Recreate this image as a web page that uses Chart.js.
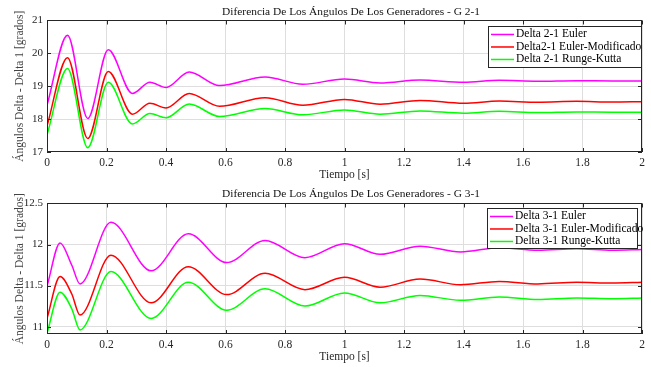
<!DOCTYPE html>
<html lang="es">
<head>
  <meta charset="UTF-8">
  <title>Diferencia De Los Ángulos De Los Generadores</title>
  <style>
    html, body { margin: 0; padding: 0; background: #fff; }
    canvas { display: block; }
  </style>
</head>
<body>
  <canvas id="chart21" width="651" height="184"></canvas>
  <canvas id="chart31" width="651" height="183"></canvas>
  <script src="https://cdn.jsdelivr.net/npm/chart.js"></script>
  <script>
    // G 2-1 (at peaks / troughs)
    const tiempo21 = [0, 0.069, 0.137, 0.206, 0.287, 0.346, 0.40, 0.478, 0.58, 0.733, 0.86, 1.0, 1.12, 1.254, 1.40, 1.52, 1.65, 1.78, 1.9, 2.0];
    const euler21 = [18.42, 20.55, 18.02, 20.11, 18.78, 19.12, 18.96, 19.43, 19.02, 19.28, 19.06, 19.22, 19.10, 19.19, 19.12, 19.18, 19.15, 19.17, 19.16, 19.16];
    const eulerMod21 = [17.79, 19.87, 17.41, 19.45, 18.15, 18.48, 18.34, 18.78, 18.39, 18.65, 18.42, 18.60, 18.45, 18.57, 18.48, 18.55, 18.51, 18.54, 18.52, 18.53];
    const rk21 = [17.52, 19.54, 17.13, 19.12, 17.85, 18.17, 18.04, 18.46, 18.08, 18.32, 18.13, 18.28, 18.15, 18.25, 18.18, 18.24, 18.20, 18.22, 18.21, 18.21];
    const labels21 = ['Delta 2-1 Euler', 'Delta2-1 Euler-Modificado', 'Delta 2-1 Runge-Kutta'];

    // G 3-1
    const tiempo31 = [0, 0.044, 0.083, 0.111, 0.215, 0.35, 0.475, 0.604, 0.733, 0.867, 1.0, 1.12, 1.254, 1.39, 1.52, 1.65, 1.78, 1.9, 2.0];
    const euler31 = [11.49, 12.02, 11.75, 11.52, 12.27, 11.68, 12.13, 11.78, 12.05, 11.84, 12.01, 11.88, 11.98, 11.91, 11.96, 11.93, 11.95, 11.93, 11.94];
    const eulerMod31 = [11.10, 11.61, 11.40, 11.14, 11.87, 11.29, 11.73, 11.39, 11.65, 11.45, 11.60, 11.48, 11.58, 11.51, 11.55, 11.52, 11.54, 11.53, 11.54];
    const rk31 = [10.92, 11.42, 11.22, 10.96, 11.67, 11.10, 11.54, 11.20, 11.46, 11.25, 11.41, 11.29, 11.38, 11.32, 11.36, 11.33, 11.35, 11.34, 11.35];
    const labels31 = ['Delta 3-1 Euler', 'Delta 3-1 Euler-Modificado', 'Delta 3-1 Runge-Kutta'];

    const colores = ['#ff00ff', '#ff0000', '#00ff00'];
    const FONT = "'Liberation Serif', 'Times New Roman', serif";
    const fmt = v => String(Number(v.toFixed(1)));

    // matlab style box, inward ticks, legend inside the axes
    const matlabBox = {
      id: 'matlabBox',
      afterLayout(chart) {
        if (chart.titleBlock) chart.titleBlock.left += 13;
      },
      afterDatasetsDraw(chart) {
        const { ctx, chartArea: a, scales } = chart;
        ctx.save();
        ctx.strokeStyle = '#262626';
        ctx.lineWidth = 1;
        ctx.beginPath();
        scales.x.ticks.forEach(t => {
          const px = Math.round(scales.x.getPixelForValue(t.value)) + 0.5;
          ctx.moveTo(px, a.bottom); ctx.lineTo(px, a.bottom - 4);
          ctx.moveTo(px, a.top); ctx.lineTo(px, a.top + 4);
        });
        scales.y.ticks.forEach(t => {
          const py = Math.round(scales.y.getPixelForValue(t.value)) + 0.5;
          ctx.moveTo(a.left, py); ctx.lineTo(a.left + 4, py);
          ctx.moveTo(a.right, py); ctx.lineTo(a.right - 4, py);
        });
        ctx.stroke();
        ctx.strokeRect(Math.round(a.left) + 0.5, Math.round(a.top) + 0.5, Math.round(a.width) - 1, Math.round(a.height) - 1);
        ctx.restore();
      },
      afterDraw(chart, args, opts) {
        const { ctx, chartArea: a } = chart;
        const x0 = a.right - opts.offsetRight - opts.width;
        const y0 = a.top + opts.offsetTop;
        ctx.save();
        ctx.fillStyle = '#fff';
        ctx.fillRect(x0, y0, opts.width, opts.height);
        ctx.strokeStyle = '#262626';
        ctx.lineWidth = 1;
        ctx.strokeRect(Math.round(x0) + 0.5, Math.round(y0) + 0.5, opts.width, opts.height);
        ctx.font = '11.5px ' + FONT;
        ctx.textBaseline = 'middle';
        chart.data.datasets.forEach((ds, i) => {
          const y = y0 + 8 + i * 12.5;
          ctx.strokeStyle = ds.borderColor;
          ctx.lineWidth = 1.5;
          ctx.beginPath();
          ctx.moveTo(x0 + 3, y);
          ctx.lineTo(x0 + 26, y);
          ctx.stroke();
          ctx.fillStyle = '#000';
          ctx.fillText(ds.label, x0 + 28, y);
        });
        ctx.restore();
      }
    };

    function makeChart(id, titulo, tiempo, series, nombres, yCfg, lay) {
      return new Chart(document.getElementById(id), {
        type: 'line',
        data: {
          datasets: series.map((vals, i) => ({
            label: nombres[i],
            data: tiempo.map((t, k) => ({ x: t, y: vals[k] })),
            borderColor: colores[i],
            borderWidth: 1.5,
            pointRadius: 0,
            cubicInterpolationMode: 'monotone',
            fill: false
          }))
        },
        options: {
          responsive: false,
          animation: false,
          layout: { padding: { left: 0, right: 9, top: 0, bottom: 0 } },
          plugins: {
            legend: { display: false },
            tooltip: { enabled: false },
            title: {
              display: true,
              text: titulo,
              fullSize: false,
              color: '#111',
              font: { family: FONT, size: 11.4, weight: 'normal', lineHeight: 1.2 },
              padding: { top: lay.titleTop, bottom: lay.titleBottom }
            },
            matlabBox: lay.legend
          },
          scales: {
            x: {
              type: 'linear',
              min: 0,
              max: 2,
              afterFit: s => { s.height = lay.xHeight; },
              grid: { color: '#dedede', drawTicks: false },
              border: { display: false },
              ticks: {
                stepSize: 0.2,
                padding: 4,
                color: '#262626',
                maxRotation: 0,
                font: { family: FONT, size: 11.5 },
                callback: fmt
              },
              title: {
                display: true,
                text: 'Tiempo [s]',
                color: '#262626',
                font: { family: FONT, size: 11.5, lineHeight: 1.2 },
                padding: { top: 0, bottom: lay.xTitleBottom }
              }
            },
            y: {
              min: yCfg.min,
              max: yCfg.max,
              afterFit: s => { s.width = 47; },
              grid: { color: '#dedede', drawTicks: false },
              border: { display: false },
              ticks: {
                stepSize: yCfg.step,
                includeBounds: false,
                padding: 4,
                color: '#262626',
                font: { family: FONT, size: 11 },
                callback: fmt
              },
              title: {
                display: true,
                text: 'Ángulos Delta - Delta 1 [grados]',
                color: '#444',
                font: { family: FONT, size: 11.5, lineHeight: 1.2 },
                padding: { top: 13.5, bottom: 13.5 }
              }
            }
          }
        },
        plugins: [matlabBox]
      });
    }

    makeChart('chart21', 'Diferencia De Los Ángulos De Los Generadores - G 2-1', tiempo21,
      [euler21, eulerMod21, rk21], labels21,
      { min: 17, max: 21, step: 1 },
      { titleTop: 5, titleBottom: 1.8, xHeight: 32, xTitleBottom: 2.1,
        legend: { width: 153, height: 41, offsetRight: 1, offsetTop: 6 } });

    makeChart('chart31', 'Diferencia De Los Ángulos De Los Generadores - G 3-1', tiempo31,
      [euler31, eulerMod31, rk31], labels31,
      { min: 10.91, max: 12.5, step: 0.5 },
      { titleTop: 3.4, titleBottom: 2.4, xHeight: 33, xTitleBottom: 3.4,
        legend: { width: 150, height: 40, offsetRight: 5, offsetTop: 5 } });
  </script>
</body>
</html>
